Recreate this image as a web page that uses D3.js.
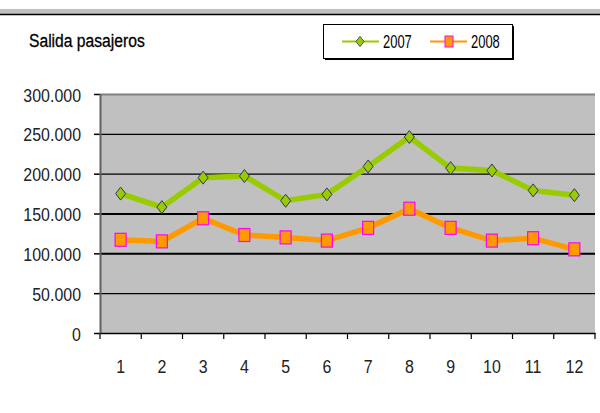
<!DOCTYPE html>
<html>
<head>
<meta charset="utf-8">
<script src="https://cdn.jsdelivr.net/npm/d3@7/dist/d3.min.js"></script>
<style>
  body { margin: 0; background: #fff; }
  svg text { font-family: "Liberation Sans", Arial, sans-serif; }
</style>
</head>
<body>
<div id="chart"></div>
<script>
var months = ["1", "2", "3", "4", "5", "6", "7", "8", "9", "10", "11", "12"];
var v2007 = [175000, 158000, 195000, 197000, 166000, 174000, 209000, 246000, 207000, 204000, 179000, 173000];
var v2008 = [117000, 115000, 144000, 123000, 120000, 116000, 132000, 156000, 132000, 116000, 119000, 105000];
var yTicks = [0, 50000, 100000, 150000, 200000, 250000, 300000];
var seriesNames = ["2007", "2008"];

var width = 600, height = 413;
var margin = {top: 94, right: 5, bottom: 80, left: 100};
var w = width - margin.left - margin.right;
var h = height - margin.top - margin.bottom;

// condensed text: horizontal squeeze around the anchor point
function squeeze(sel, k) {
  sel.each(function() {
    var t = d3.select(this);
    var tx = +t.attr("x") || 0, ty = +t.attr("y") || 0;
    t.attr("x", 0).attr("y", 0)
     .attr("transform", "translate(" + tx + "," + ty + ") scale(" + k + ",1)");
  });
}

var svg = d3.select("#chart").append("svg")
    .attr("width", width)
    .attr("height", height);

// top band
svg.append("rect").attr("x", 0).attr("y", 9).attr("width", width).attr("height", 5).attr("fill", "#c0c0c0");
svg.append("line").attr("x1", 0).attr("x2", width).attr("y1", 14.5).attr("y2", 14.5)
    .attr("stroke", "#000").attr("stroke-width", 1.5);

// title
svg.append("text")
    .attr("x", 29).attr("y", 47)
    .attr("font-size", 18)
    .attr("fill", "#000")
    .attr("stroke", "#000").attr("stroke-width", 0.3)
    .text("Salida pasajeros")
    .call(squeeze, 0.87);

var x = d3.scaleBand().domain(months).range([0, w]);
var y = d3.scaleLinear().domain([0, 300000]).range([h, 0]);

var g = svg.append("g").attr("transform", "translate(" + margin.left + "," + margin.top + ")");

g.append("rect").attr("width", w).attr("height", h).attr("fill", "#c0c0c0");

// gridlines
g.selectAll(".grid").data(yTicks.filter(function(d) { return d > 0; }))
  .enter().append("line")
    .attr("x1", 0).attr("x2", w)
    .attr("y1", function(d) { return y(d) + 0.5; })
    .attr("y2", function(d) { return y(d) + 0.5; })
    .attr("stroke", function(d) { return d === 300000 ? "#808080" : "#000"; })
    .attr("stroke-width", function(d) { return (d === 100000 || d === 150000 || d === 300000) ? 2 : 1.2; });

// y axis
var yAxis = g.append("g")
    .call(d3.axisLeft(y).tickValues(yTicks).tickSize(6).tickPadding(13)
      .tickFormat(function(d) { return d === 0 ? "0" : d3.format(",")(d).replace(/,/g, "."); }));
yAxis.select(".domain").remove();
yAxis.selectAll(".tick line").attr("stroke", "#000").attr("stroke-width", 1.5);
yAxis.selectAll("text").attr("font-size", 19).attr("fill", "#222")
    .attr("dy", null).attr("y", 7).call(squeeze, 0.84);
g.append("line").attr("x1", 0.5).attr("x2", 0.5).attr("y1", 0).attr("y2", h)
    .attr("stroke", "#606060").attr("stroke-width", 2);

// x axis
var xAxis = g.append("g").attr("transform", "translate(0," + h + ")")
    .call(d3.axisBottom(x).tickSize(0).tickPadding(25));
xAxis.select(".domain").attr("stroke", "#000").attr("stroke-width", 1.5);
xAxis.selectAll("text").attr("font-size", 19).attr("fill", "#222")
    .attr("dy", null).attr("y", 40).call(squeeze, 0.84);
g.selectAll(".xtick").data(d3.range(months.length + 1))
  .enter().append("line")
    .attr("x1", function(i) { return i * x.step(); })
    .attr("x2", function(i) { return i * x.step(); })
    .attr("y1", h).attr("y2", h + 6)
    .attr("stroke", "#000").attr("stroke-width", 1.2);

var cx = function(d, i) { return x(months[i]) + x.bandwidth() / 2; };
var line = d3.line().x(cx).y(function(d) { return y(d); });

g.append("path").datum(v2007).attr("d", line)
    .attr("fill", "none").attr("stroke", "#99cc00").attr("stroke-width", 5.5);
g.append("path").datum(v2008).attr("d", line)
    .attr("fill", "none").attr("stroke", "#ff9900").attr("stroke-width", 5.5);

var diamond = "M0,-6.5L5,0L0,6.5L-5,0Z";

g.selectAll(".m07").data(v2007).enter().append("path")
    .attr("d", diamond)
    .attr("transform", function(d, i) { return "translate(" + cx(d, i) + "," + y(d) + ")"; })
    .attr("fill", "#99cc00").attr("stroke", "#333366").attr("stroke-width", 1);

g.selectAll(".m08").data(v2008).enter().append("rect")
    .attr("x", function(d, i) { return cx(d, i) - 5.5; })
    .attr("y", function(d) { return y(d) - 6.5; })
    .attr("width", 11).attr("height", 13)
    .attr("fill", "#ff9900").attr("stroke", "#ff00ff").attr("stroke-width", 1.2);

// legend
var lg = svg.append("g");
lg.append("rect").attr("x", 325).attr("y", 26).attr("width", 189).attr("height", 34).attr("fill", "#000");
lg.append("rect").attr("x", 323.5).attr("y", 24.5).attr("width", 189).attr("height", 34)
    .attr("fill", "#fff").attr("stroke", "#000").attr("stroke-width", 1);

var legendX = [342, 430];
var legendColor = ["#99cc00", "#ff9900"];
seriesNames.forEach(function(name, i) {
  var lx = legendX[i];
  lg.append("line").attr("x1", lx).attr("x2", lx + 37).attr("y1", 41.5).attr("y2", 41.5)
      .attr("stroke", legendColor[i]).attr("stroke-width", 2);
  if (i === 0) {
    lg.append("path").attr("d", diamond)
        .attr("transform", "translate(" + (lx + 18) + ",41.5) scale(0.8)")
        .attr("fill", "#99cc00").attr("stroke", "#333366");
  } else {
    lg.append("rect").attr("x", lx + 15).attr("y", 36).attr("width", 8).attr("height", 11)
        .attr("fill", "#ff9900").attr("stroke", "#ff00ff");
  }
  lg.append("text").attr("x", lx + 41).attr("y", 48)
      .attr("font-size", 18).attr("fill", "#000").text(name)
      .call(squeeze, 0.72);
});
</script>
</body>
</html>
